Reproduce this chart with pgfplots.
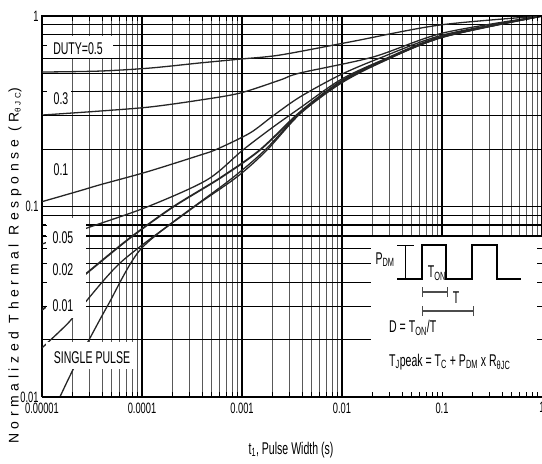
\documentclass[border=0pt]{standalone}
\usepackage{fontspec}
\setmainfont{Liberation Sans}[FakeStretch=0.62]
\newfontfamily\ylabfont{Liberation Sans}[LetterSpace=33]
\usepackage{pgfplots}
\pgfplotsset{compat=1.18}
% grid under the curves, ticks above the white boxes
\pgfplotsset{
  layers/gridunder/.define layer set={axis background,axis grid,pre main,main,axis ticks,axis lines,axis tick labels,axis descriptions,axis foreground}{/pgfplots/layers/standard},
  curve/.style={black!85, line width=1.3pt, smooth, tension=0.5, no markers, solid},
}
\newcommand{\lab}{\fontsize{17}{17}\selectfont}

\begin{document}
\begin{tikzpicture}
\begin{axis}[
  set layers=gridunder,
  xmode=log, ymode=log,
  scale only axis, width=500pt, height=381pt,
  xmin=1e-5, xmax=1, ymin=0.01, ymax=1,
  grid=both,
  major grid style={black, line width=1.1pt},
  minor y grid style={black, line width=1.1pt},
  minor x grid style={black!65, line width=1.1pt},
  axis line style={black, line width=1pt},
  tick align=inside,
  major tick length=5pt, minor tick length=5pt,
  every tick/.style={black, line width=0.8pt},
  xtick={1e-5,1e-4,1e-3,1e-2,1e-1,1},
  xticklabels={0.00001,0.0001,0.001,0.01,0.1,1},
  ytick={0.01,0.1,1},
  yticklabels={0.01,0.1,1},
  tick label style={font=\fontsize{15}{15}\selectfont},
  xticklabel style={yshift=-2pt},
]
% D = 0.5
\addplot[curve] coordinates {(1e-5,0.508) (3.8e-5,0.514) (1.2e-4,0.533) (3.8e-4,0.567) (9.55e-4,0.594) (2.4e-3,0.624) (1.2e-2,0.731) (0.0955,0.897) (1,1)};
% D = 0.3
\addplot[curve] coordinates {(1e-5,0.302) (3.8e-5,0.317) (1.2e-4,0.333) (3.8e-4,0.362) (9.55e-4,0.394) (2.4e-3,0.461) (3.8e-3,0.502) (2.04e-2,0.609) (0.102,0.814) (1,1)};
% D = 0.1
\addplot[curve] coordinates {(1e-5,0.106) (2.4e-5,0.121) (3.8e-5,0.130) (1.12e-4,0.152) (3.8e-4,0.186) (5.62e-4,0.200) (1.2e-3,0.243) (2.04e-3,0.299) (3.8e-3,0.376) (9.55e-3,0.490) (2.4e-2,0.602) (0.102,0.795) (1,1)};
% D = 0.05
\addplot[curve] coordinates {(1e-5,0.0635) (2.82e-5,0.0771) (1.12e-4,0.0994) (4.47e-4,0.138) (1.02e-3,0.198) (2.04e-3,0.261) (3.8e-3,0.329) (9.55e-3,0.461) (2.4e-2,0.580) (0.102,0.785) (1,1)};
% D = 0.02
\addplot[curve, line width=1.8pt] coordinates {(1e-5,0.0286) (2.82e-5,0.0448) (7.59e-5,0.0684) (2.04e-4,0.0994) (6.03e-4,0.141) (1.51e-3,0.198) (3.8e-3,0.313) (9.55e-3,0.451) (2.4e-2,0.573) (0.102,0.776) (1,1)};
% D = 0.01
\addplot[curve] coordinates {(1e-5,0.0181) (1.82e-5,0.0244) (2.57e-5,0.0304) (6.03e-5,0.0505) (2.04e-4,0.0829) (7.59e-4,0.138) (1.7e-3,0.198) (3.8e-3,0.310) (9.55e-3,0.445) (2.4e-2,0.573) (0.102,0.776) (1,1)};
% single pulse
\addplot[curve] coordinates {(1.51e-5,0.01) (2.04e-5,0.0139) (3.02e-5,0.0204) (4.57e-5,0.0304) (9.55e-5,0.0591) (3.02e-4,0.0959) (8.91e-4,0.143) (1.78e-3,0.198) (3.8e-3,0.306) (9.55e-3,0.440) (2.4e-2,0.567) (0.102,0.776) (1,1)};

% white label boxes
\fill[white] (axis description cs:0.008,0.890) rectangle (axis description cs:0.142,0.948);
\fill[white] (axis description cs:0.008,0.759) rectangle (axis description cs:0.058,0.822);
\fill[white] (axis description cs:0.008,0.207) rectangle (axis description cs:0.088,0.470);
\fill[white] (axis description cs:0.008,0.073) rectangle (axis description cs:0.186,0.144);
\fill[white] (axis description cs:0.658,0) rectangle (axis description cs:1,0.42);

\node[font=\lab] at (axis description cs:0.072,0.913) {DUTY=0.5};
\node[font=\lab] at (axis description cs:0.038,0.782) {0.3};
\node[font=\lab] at (axis description cs:0.038,0.596) {0.1};
\node[font=\lab] at (axis description cs:0.042,0.417) {0.05};
\node[font=\lab] at (axis description cs:0.042,0.333) {0.02};
\node[font=\lab] at (axis description cs:0.042,0.241) {0.01};
\node[font=\lab] at (axis description cs:0.100,0.102) {SINGLE PULSE};

% inset
\draw[black, line width=1.1pt] (axis description cs:0.710,0.3097) -- (axis description cs:0.760,0.3097) -- (axis description cs:0.760,0.399) -- (axis description cs:0.808,0.399) -- (axis description cs:0.808,0.3097) -- (axis description cs:0.860,0.3097) -- (axis description cs:0.860,0.399) -- (axis description cs:0.910,0.399) -- (axis description cs:0.910,0.3097) -- (axis description cs:0.958,0.3097);
\draw[black, line width=0.9pt] (axis description cs:0.726,0.3097) -- (axis description cs:0.726,0.399);
\draw[black, line width=0.9pt] (axis description cs:0.710,0.399) -- (axis description cs:0.744,0.399);
\draw[black!70, line width=1.1pt] (axis description cs:0.762,0.2756) -- (axis description cs:0.810,0.2756);
\draw[black!70, line width=1pt] (axis description cs:0.762,0.262) -- (axis description cs:0.762,0.289);
\draw[black!70, line width=1pt] (axis description cs:0.810,0.262) -- (axis description cs:0.810,0.289);
\draw[black!70, line width=1.1pt] (axis description cs:0.762,0.2257) -- (axis description cs:0.862,0.2257);
\draw[black!70, line width=1pt] (axis description cs:0.762,0.212) -- (axis description cs:0.762,0.239);
\draw[black!70, line width=1pt] (axis description cs:0.862,0.212) -- (axis description cs:0.862,0.239);
\node[font=\lab] at (axis description cs:0.686,0.360) {P\textsubscript{DM}};
\node[font=\lab] at (axis description cs:0.790,0.325) {T\textsubscript{ON}};
\node[font=\lab] at (axis description cs:0.828,0.262) {T};
\node[font=\lab, anchor=west, inner sep=0] at (axis description cs:0.694,0.181) {D = T\textsubscript{ON}/T};
\node[font=\lab, anchor=west, inner sep=0] at (axis description cs:0.694,0.092) {T\textsubscript{J}peak = T\textsubscript{C} + P\textsubscript{DM} x R\textsubscript{θJC}};
\end{axis}
\node[rotate=90, font=\ylabfont\fontsize{14}{14}\selectfont] at (-27pt,131pt) {Normalized Thermal Response (R\raisebox{-2pt}{\fontsize{8}{8}\selectfont θJC})};
\node[font=\lab] at (249pt,-53pt) {t\textsubscript{1}, Pulse Width (s)};
\pgfresetboundingbox
\path[use as bounding box] (-42pt,-67pt) rectangle (500pt,397pt);
\end{tikzpicture}
\end{document}
